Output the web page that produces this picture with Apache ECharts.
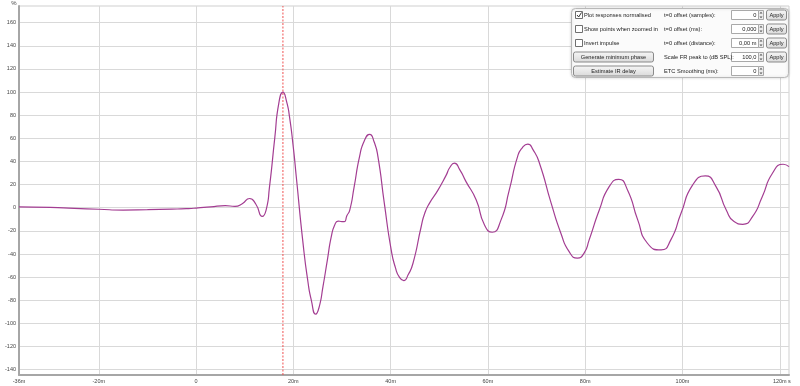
<!DOCTYPE html>
<html>
<head>
<meta charset="utf-8">
<script src="https://cdn.jsdelivr.net/npm/echarts@6/dist/echarts.min.js"></script>
<style>html,body{margin:0;padding:0;background:#fff;}#c{width:800px;height:386px;}</style>
</head>
<body>
<div id="c"></div>
<script>
// ---- data (time in ms, value in %) ----
const times = [-36.4,-30,-25,-20,-15,-10,-5,-2,0,3,6,8,9.5,11,12.3,13.6,14.4,15.1,16.2,17.0,17.86,18.6,19.2,20.0,20.6,22.0,23.0,23.7,24.6,25.3,26.1,27.0,27.8,28.5,29.2,30.0,30.5,31.0,31.6,32.5,33.6,34.6,35.7,36.6,37.4,38.7,40.1,41.0,41.8,42.7,43.6,44.6,46.3,47.0,48.0,49.7,51.4,52.2,53.1,54.2,55.5,57.6,59.3,60.9,62.7,64.4,66.1,67.1,68.2,69.3,70.6,73.0,75.0,76.7,78.4,79.8,80.8,82.9,84.9,86.9,88.7,90.8,92.8,95.6,97.6,99.7,102.1,104.7,106.9,109.0,110.6,112.4,114.4,116.4,118.5,120.7,121.9];
const values = [0.8,0.3,-0.5,-1.3,-2.0,-1.7,-1.2,-0.8,-0.3,0.8,1.8,1.2,3.5,8.0,3,-7.5,-2,18,61,90,100,92,79,52,27,-31,-64,-80,-92,-86,-68,-45,-25,-15,-11.5,-12,-12,-7,-2,18,44,58,63.5,57,44,4,-36,-52,-60,-63,-58,-48,-16,-5,4,15,28,35,38.5,33,22.6,6.7,-14.9,-21.2,-10.5,15.4,44.2,52,55,50,38.5,4,-22,-38,-43.5,-39,-28,-2,18,24.6,15.4,-10.5,-30.7,-36.5,-27.8,-4.8,19.7,27.5,18.2,-1.9,-12,-14.3,-7.7,9.6,29.8,37.6,35.5];
const xMin = -36.4, xMax = 121.9;
const yMin = -144.6, yMax = 174.4;
const xTicks = [-20,0,20,40,60,80,100,120];
const xLabelValues = [-36.4,-20,0,20,40,60,80,100,120];
const yTicks = [-140,-120,-100,-80,-60,-40,-20,0,20,40,60,80,100,120,140,160];
const markerTime = 17.86;

const checkboxes = ['Plot responses normalised','Show points when zoomed in','Invert impulse'];
const checked = [true,false,false];
const buttons = ['Generate minimum phase','Estimate IR delay'];
const fieldLabels = ['t=0 offset (samples):','t=0 offset (ms):','t=0 offset (distance):','Scale FR peak to (dB SPL):','ETC Smoothing (ms):'];
const fieldValues = ['0','0,000','0,00 m','100,0','0'];
const hasApply = [true,true,true,true,false];

const FONT = 'Liberation Sans, Arial, sans-serif';
const PF = '5.7px ' + FONT;
const chart = echarts.init(document.getElementById('c'), null, {renderer:'canvas'});

// ---- control panel graphics ----
const rowY = [15,29,43,57,71];
const g = [];
g.push({type:'rect', shape:{x:571.5,y:8.5,width:217,height:69,r:4}, style:{fill:'#fbfbfb',stroke:'#b8b8b8',lineWidth:1, shadowBlur:3, shadowColor:'rgba(0,0,0,0.15)'}, z:100});
checkboxes.forEach((t,i)=>{
  g.push({type:'rect', shape:{x:575.5,y:rowY[i]-3.5,width:7,height:7}, style:{fill:'#fff',stroke:'#6f6f6f',lineWidth:1}, z:101});
  if (checked[i]) g.push({type:'polyline', shape:{points:[[577,rowY[i]],[578.7,rowY[i]+2],[581.5,rowY[i]-2.5]]}, style:{stroke:'#333',lineWidth:1,fill:null}, z:102});
  g.push({type:'text', style:{x:584,y:rowY[i],text:t,fill:'#222',font:PF,textVerticalAlign:'middle'}, z:102});
});
buttons.forEach((t,j)=>{
  const y = rowY[3+j];
  g.push({type:'rect', shape:{x:573.5,y:y-5,width:80,height:10,r:2}, style:{fill:new echarts.graphic.LinearGradient(0,0,0,1,[{offset:0,color:'#f7f7f7'},{offset:1,color:'#d9d9d9'}]),stroke:'#8a8a8a',lineWidth:1}, z:101});
  g.push({type:'text', style:{x:613.5,y:y,text:t,fill:'#222',font:PF,textAlign:'center',textVerticalAlign:'middle'}, z:102});
});
fieldLabels.forEach((t,i)=>{
  const y = rowY[i];
  g.push({type:'text', style:{x:664,y:y,text:t,fill:'#222',font:PF,textVerticalAlign:'middle'}, z:102});
  g.push({type:'rect', shape:{x:731.5,y:y-4.5,width:27,height:9}, style:{fill:'#fff',stroke:'#a9a9a9',lineWidth:1}, z:101});
  g.push({type:'text', style:{x:756.5,y:y,text:fieldValues[i],fill:'#222',font:PF,textAlign:'right',textVerticalAlign:'middle'}, z:102});
  g.push({type:'rect', shape:{x:758.5,y:y-4.5,width:5,height:9}, style:{fill:'#ececec',stroke:'#a9a9a9',lineWidth:1}, z:101});
  g.push({type:'polygon', shape:{points:[[759.5,y-1.5],[762.5,y-1.5],[761,y-3.2]]}, style:{fill:'#555'}, z:102});
  g.push({type:'polygon', shape:{points:[[759.5,y+1.5],[762.5,y+1.5],[761,y+3.2]]}, style:{fill:'#555'}, z:102});
  if (hasApply[i]) {
    g.push({type:'rect', shape:{x:766.5,y:y-5,width:20,height:10,r:2}, style:{fill:new echarts.graphic.LinearGradient(0,0,0,1,[{offset:0,color:'#f7f7f7'},{offset:1,color:'#d9d9d9'}]),stroke:'#8a8a8a',lineWidth:1}, z:101});
    g.push({type:'text', style:{x:776.5,y:y,text:'Apply',fill:'#222',font:PF,textAlign:'center',textVerticalAlign:'middle'}, z:102});
  }
});
g.push({type:'text', style:{x:14,y:3,text:'%',fill:'#444',font:'6px '+FONT,textAlign:'center',textVerticalAlign:'middle'}, z:50});
g.push({type:'text', style:{x:788,y:381,text:'s',fill:'#444',font:'5.5px '+FONT,textAlign:'left',textVerticalAlign:'middle'}, z:50});

const option = {
  animation:false,
  backgroundColor:'#ffffff',
  grid:{left:19, right:11, top:6, bottom:11, show:true, borderColor:'#cfcfcf', borderWidth:1, backgroundColor:'#ffffff'},
  xAxis:{
    type:'value', min:xMin, max:xMax,
    axisLine:{show:true, onZero:false, lineStyle:{color:'#a6a6a6', width:2}},
    axisTick:{show:false, customValues:xTicks},
    splitLine:{show:true, lineStyle:{color:'#d9d9d9', width:1}},
    axisLabel:{customValues:xLabelValues, fontSize:5.5, color:'#444', fontFamily:FONT, margin:3,
      formatter:v=> v===0 ? '0' : (Math.round(v)+'m')}
  },
  yAxis:{
    type:'value', min:yMin, max:yMax,
    axisLine:{show:true, onZero:false, lineStyle:{color:'#a6a6a6', width:2}},
    axisTick:{show:false, customValues:yTicks},
    splitLine:{show:true, lineStyle:{color:'#d9d9d9', width:1}},
    axisLabel:{customValues:yTicks, fontSize:5.5, color:'#444', fontFamily:FONT, margin:3}
  },
  series:[{
    type:'line',
    data: times.map((t,i)=>[t, values[i]]),
    smooth:0.6,
    showSymbol:false,
    lineStyle:{color:'#a33d92', width:1.2},
    z:10
  },{
    type:'line',
    data:[[markerTime, yMin],[markerTime, yMax]],
    showSymbol:false,
    silent:true,
    lineStyle:{color:'#f05050', type:[2,1.5], width:1},
    z:9
  }],
  graphic: g
};
chart.setOption(option);
</script>
</body>
</html>
